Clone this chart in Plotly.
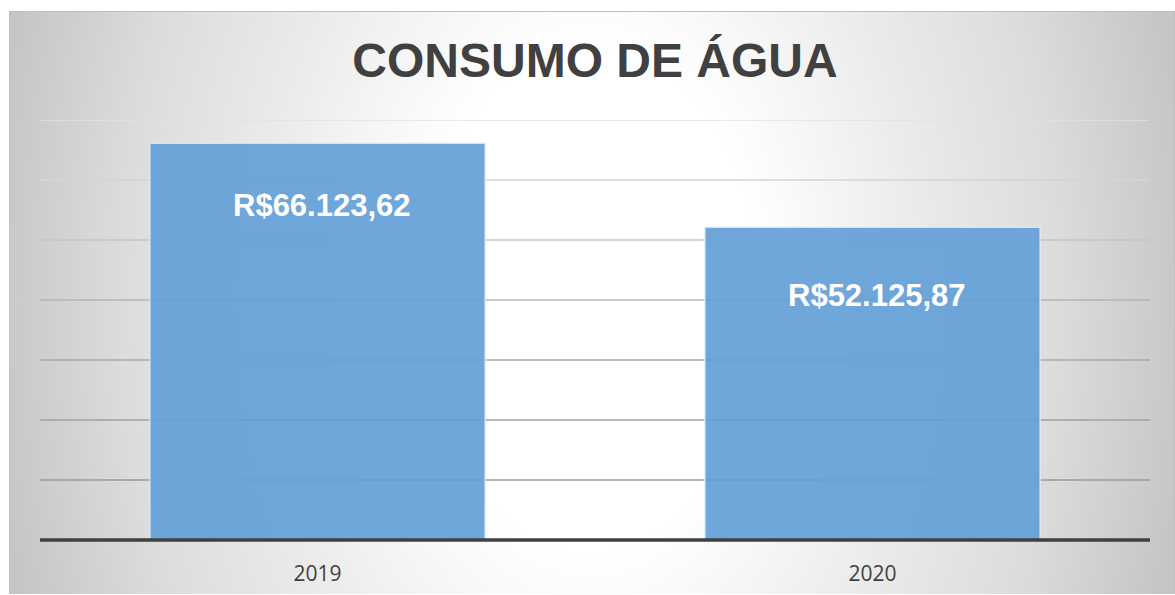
import base64
import plotly.graph_objects as go

# ---- data ----
categories = ["2019", "2020"]
values = [66123.62, 52125.87]
value_labels = ["R$66.123,62", "R$52.125,87"]
title_text = "CONSUMO DE ÁGUA"
grid_values = [10000, 20000, 30000, 40000, 50000, 60000, 70000]
grid_colors = ["#9a9a9a", "#a0a0a0", "#a8a8a8", "#b4b4b4", "#c4c4c4", "#d4d4d4", "#e2e2e2"]
label_shifts = [-62, -68]

W, H = 1175, 595
L, R, T, B = 40, 25, 120, 55
pw, ph = W - L - R, H - T - B

# background gradient image (chart area box from x=9,y=11 to right/bottom edge)
bx0, by0, bx1, by1 = 9, 11, 1175, 594
bw, bh = bx1 - bx0, by1 - by0
cx, cy = 581, 289
svg = f'''<svg xmlns="http://www.w3.org/2000/svg" width="{bw}" height="{bh}" viewBox="0 0 {bw} {bh}" preserveAspectRatio="none">
<defs><radialGradient id="g" gradientUnits="userSpaceOnUse" cx="{cx}" cy="{cy}" r="600"
 gradientTransform="translate({cx} {cy}) scale(1 1.5) translate({-cx} {-cy})">
<stop offset="0" stop-color="#ffffff"/><stop offset="0.28" stop-color="#ffffff"/>
<stop offset="0.55" stop-color="#ebebeb"/>
<stop offset="0.78" stop-color="#dcdcdc"/>
<stop offset="1" stop-color="#c6c6c6"/></radialGradient></defs>
<rect width="{bw}" height="{bh}" fill="url(#g)"/>
<rect x="0.5" y="0.5" width="{bw-1}" height="{bh+5}" fill="none" stroke="#c0c0c0" stroke-width="1"/>
</svg>'''
src = "data:image/svg+xml;base64," + base64.b64encode(svg.encode()).decode()

fig = go.Figure()
fig.add_trace(go.Bar(
    x=categories, y=values,
    marker=dict(color="rgba(100,159,215,0.92)",
                line=dict(color="rgba(225,238,250,0.8)", width=1.5)),
    hoverinfo="skip",
))

shapes = []
for gv, gc in zip(grid_values, grid_colors):
    shapes.append(dict(type="line", xref="paper", yref="y", x0=0, x1=1, y0=gv, y1=gv,
                       line=dict(color=gc, width=1.5), layer="below"))
# baseline (value axis zero == bottom of plot area)
shapes.append(dict(type="line", xref="paper", yref="paper", x0=0, x1=1, y0=0, y1=0,
                   line=dict(color="#404040", width=3.5), layer="above"))

annotations = []
for i, (v, t, s) in enumerate(zip(values, value_labels, label_shifts)):
    annotations.append(dict(x=i, y=v, xref="x", yref="y", text="<b>" + t + "</b>",
                            showarrow=False, yshift=s, xshift=4,
                            yanchor="middle", xanchor="center",
                            font=dict(family="Liberation Sans, Arial", size=31, color="white")))

fig.update_layout(
    width=W, height=H,
    margin=dict(l=L, r=R, t=T, b=B, pad=0, autoexpand=False),
    paper_bgcolor="white",
    plot_bgcolor="rgba(0,0,0,0)",
    bargap=0.396,
    showlegend=False,
    title=dict(text="<b>" + title_text + "</b>", x=595 / W, xanchor="center",
               y=1 - 60 / H, yanchor="middle", yref="container",
               font=dict(family="Liberation Sans, Arial", size=48, color="#404040")),
    xaxis=dict(type="category", range=[-0.5, len(categories) - 0.5], automargin=False,
               showgrid=False, zeroline=False, showline=False, ticks="",
               tickfont=dict(family="Open Sans", size=21, color="#404040"),
               ticklabelstandoff=19),
    yaxis=dict(range=[0, 70000], showgrid=False, zeroline=False, showline=False,
               showticklabels=False, ticks="", automargin=False),
    shapes=shapes,
    annotations=annotations,
    images=[dict(source=src, xref="paper", yref="paper",
                 x=(bx0 - L) / pw, y=(H - B - by0) / ph,
                 sizex=bw / pw, sizey=bh / ph,
                 xanchor="left", yanchor="top", sizing="stretch", layer="below")],
)

fig.write_html("out.html", config={"displayModeBar": False},
               post_script="document.body.style.margin='0';")
